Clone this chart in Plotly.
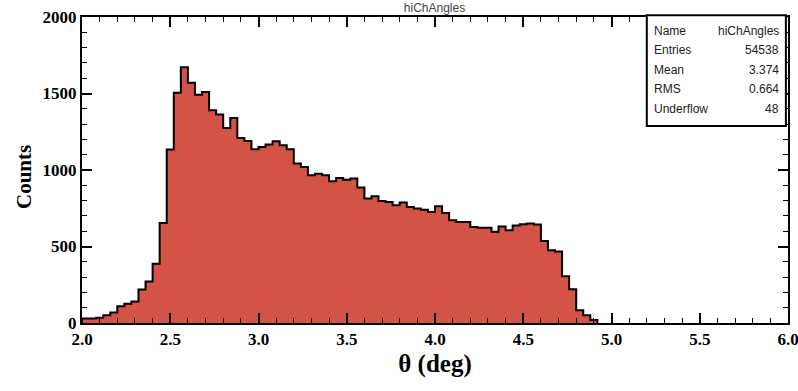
import numpy as np
import plotly.graph_objects as go

# ---- data ----
bin_low = 2.0
bin_width = 0.04
counts = [30, 30, 35, 50, 68, 109, 126, 141, 219, 272,
          387, 654, 1134, 1505, 1672, 1570, 1492, 1509, 1390, 1362,
          1275, 1340, 1209, 1190, 1135, 1150, 1166, 1188, 1161, 1135,
          1042, 1020, 965, 976, 965, 926, 948, 937, 944, 885,
          813, 828, 797, 791, 769, 787, 758, 748, 741, 725,
          763, 719, 671, 660, 660, 627, 623, 623, 597, 630,
          606, 638, 645, 650, 643, 536, 475, 468, 305, 220,
          83, 50, 20]
x_ticks = [2.0, 2.5, 3.0, 3.5, 4.0, 4.5, 5.0, 5.5, 6.0]
y_ticks = [0, 500, 1000, 1500, 2000]
stats_labels = ["Name", "Entries", "Mean", "RMS", "Underflow"]
stats_values = ["hiChAngles", "54538", "3.374", "0.664", "48"]

edges = [round(bin_low + bin_width * i, 4) for i in range(len(counts) + 1)]
xs = [edges[0]] + edges + [edges[-1]]
ys = [0] + counts + [counts[-1], 0]

fig = go.Figure()
fig.add_trace(go.Scatter(
    x=xs, y=ys, mode="lines", line=dict(shape="hv", color="black", width=2),
    fill="tozeroy", fillcolor="rgb(211,83,70)", hoverinfo="skip", showlegend=False))

tickfont = dict(family="Liberation Serif", size=17, color="black", weight="bold")
axis_common = dict(showline=True, linewidth=2, linecolor="black", mirror="ticks",
                   ticks="inside", ticklen=10, tickwidth=1.5, tickcolor="black",
                   showgrid=False, zeroline=False, tickfont=tickfont, automargin=False,
                   ticklabeloverflow="allow")

fig.update_xaxes(range=[2, 6], tickvals=x_ticks, ticktext=[f"{v:.1f}" for v in x_ticks],
                 minor=dict(tickvals=[round(2 + 0.1 * i, 2) for i in range(41)], ticklen=5,
                            ticks="inside", tickcolor="black", tickwidth=1.2),
                 title=dict(text="θ (deg)", font=dict(family="Liberation Serif", size=25,
                                                       color="black", weight="bold"), standoff=6),
                 **axis_common)
fig.update_yaxes(range=[0, 2000], tickvals=y_ticks, ticktext=[str(v) for v in y_ticks],
                 minor=dict(tickvals=list(range(0, 2001, 100)), ticklen=5,
                            ticks="inside", tickcolor="black", tickwidth=1.2),
                 **axis_common)

fig.add_annotation(xref="paper", yref="paper", x=-0.0822, y=0.477, text="Counts",
                   textangle=-90, showarrow=False, xanchor="center", yanchor="middle",
                   font=dict(family="Liberation Serif", size=21, color="black", weight="bold"))

# stats box
fig.add_shape(type="rect", xref="paper", yref="paper", x0=0.800, x1=0.997, y0=0.644, y1=1.006,
              line=dict(color="black", width=2), fillcolor="white", layer="above")
row_y = [0.954, 0.892, 0.827, 0.765, 0.699]
for lab, val, yy in zip(stats_labels, stats_values, row_y):
    fig.add_annotation(xref="paper", yref="paper", x=0.807, y=yy, text=lab, showarrow=False,
                       xanchor="left", yanchor="middle",
                       font=dict(family="Liberation Sans", size=12, color="#222"))
    fig.add_annotation(xref="paper", yref="paper", x=0.990, y=yy, text=val, showarrow=False,
                       xanchor="right", yanchor="middle",
                       font=dict(family="Liberation Sans", size=12, color="#222"))

fig.update_layout(
    width=798, height=391,
    margin=dict(l=82, r=10, t=17, b=68, autoexpand=False),
    paper_bgcolor="white", plot_bgcolor="white",
    title=dict(text="hiChAngles", x=0.5445, xanchor="center", y=0.98, yanchor="middle",
               font=dict(family="Liberation Sans", size=12, color="#444")),
)

fig.write_html("out.html")
